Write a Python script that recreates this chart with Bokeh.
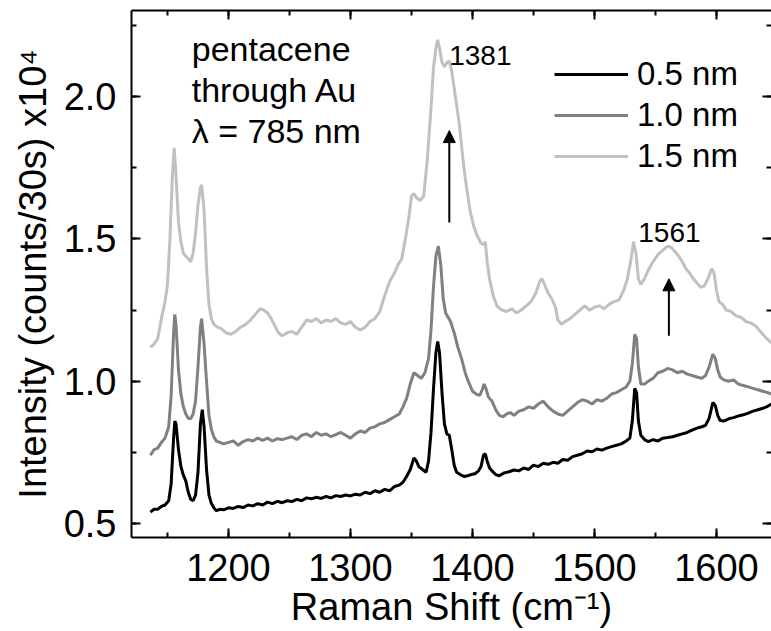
from bokeh.plotting import figure
from bokeh.models import (LinearAxis, SingleIntervalTicker, Label, Arrow, NormalHead,
                          Legend, LegendItem, ColumnDataSource, PrintfTickFormatter,
                          CustomJSTickFormatter)
from bokeh.embed import file_html
from bokeh.resources import INLINE

FONT = "Liberation Sans"

# ---------------- data ----------------
wn_05 = [1136, 1139, 1142, 1145, 1148, 1151, 1153, 1155, 1156, 1157, 1159, 1161, 1163, 1165, 1167, 1169,
         1171, 1173, 1175, 1177, 1178.5, 1180, 1182, 1184, 1186, 1188, 1190, 1193, 1196, 1200, 1204, 1208,
         1212, 1216, 1220, 1224, 1228, 1232, 1236, 1240, 1244, 1248, 1252, 1256, 1260, 1264, 1268, 1272,
         1276, 1280, 1284, 1288, 1292, 1296, 1300, 1304, 1308, 1312, 1316, 1320, 1324, 1328, 1332, 1336,
         1340, 1343, 1346, 1349, 1352, 1354, 1356, 1359, 1362, 1364, 1366, 1368, 1370, 1371.5, 1373, 1375,
         1377, 1379, 1381, 1383, 1385, 1387, 1390, 1393, 1396, 1399, 1402, 1405, 1407, 1409, 1410.5, 1412,
         1414, 1416, 1419, 1422, 1426, 1430, 1434, 1438, 1442, 1446, 1450, 1454, 1458, 1462, 1466, 1470,
         1474, 1478, 1482, 1486, 1490, 1494, 1498, 1502, 1506, 1510, 1514, 1518, 1522, 1526, 1529, 1531,
         1533, 1534.5, 1536, 1538, 1541, 1544, 1548, 1552, 1556, 1560, 1564, 1568, 1572, 1576, 1580, 1584,
         1588, 1591, 1594, 1597, 1599, 1601, 1603, 1606, 1610, 1614, 1618, 1622, 1626, 1630, 1634, 1638,
         1642, 1645]
int_05 = [0.54, 0.55, 0.55, 0.56, 0.565, 0.58, 0.64, 0.80, 0.86, 0.85, 0.76, 0.70, 0.67, 0.65, 0.61, 0.585,
          0.58, 0.60, 0.68, 0.85, 0.90, 0.84, 0.69, 0.60, 0.57, 0.555, 0.545, 0.55, 0.548, 0.555, 0.553, 0.56,
          0.556, 0.565, 0.562, 0.57, 0.565, 0.575, 0.57, 0.578, 0.573, 0.58, 0.577, 0.585, 0.58, 0.59, 0.587, 0.592,
          0.588, 0.595, 0.59, 0.598, 0.595, 0.60, 0.597, 0.603, 0.60, 0.61, 0.605, 0.615, 0.61, 0.62, 0.615, 0.63,
          0.635, 0.645, 0.665, 0.69, 0.73, 0.72, 0.70, 0.69, 0.68, 0.72, 0.82, 0.97, 1.10, 1.14, 1.10, 0.96,
          0.85, 0.815, 0.81, 0.76, 0.705, 0.68, 0.672, 0.665, 0.668, 0.672, 0.675, 0.685, 0.70, 0.74, 0.745, 0.72,
          0.695, 0.685, 0.672, 0.668, 0.678, 0.682, 0.688, 0.685, 0.695, 0.69, 0.705, 0.70, 0.712, 0.708, 0.715, 0.712,
          0.725, 0.722, 0.735, 0.74, 0.745, 0.755, 0.752, 0.762, 0.758, 0.765, 0.77, 0.775, 0.78, 0.79, 0.80, 0.86,
          0.975, 0.96, 0.86, 0.81, 0.795, 0.788, 0.795, 0.79, 0.80, 0.802, 0.805, 0.81, 0.815, 0.82, 0.828, 0.835,
          0.84, 0.845, 0.87, 0.925, 0.915, 0.88, 0.862, 0.86, 0.868, 0.872, 0.878, 0.882, 0.888, 0.895, 0.90, 0.905,
          0.912, 0.92]

wn_10 = [1136, 1139, 1142, 1145, 1148, 1151, 1153, 1155, 1156, 1157, 1159, 1161, 1163, 1165, 1167, 1169,
         1171, 1173, 1175, 1177, 1178, 1180, 1182, 1184, 1186, 1188, 1190, 1193, 1196, 1200, 1204, 1208,
         1212, 1216, 1220, 1224, 1228, 1232, 1236, 1240, 1244, 1248, 1252, 1256, 1260, 1264, 1268, 1272,
         1276, 1280, 1284, 1288, 1292, 1296, 1300, 1304, 1308, 1312, 1316, 1320, 1324, 1328, 1332, 1336,
         1340, 1343, 1346, 1349, 1352, 1355, 1358, 1361, 1364, 1366, 1368, 1370, 1372, 1374, 1376, 1378,
         1380, 1382, 1385, 1388, 1391, 1394, 1397, 1400, 1403, 1406, 1408, 1409.5, 1411, 1413, 1416, 1419,
         1422, 1425, 1428, 1431, 1434, 1438, 1442, 1446, 1450, 1454, 1458, 1462, 1466, 1470, 1474, 1478,
         1482, 1486, 1490, 1494, 1498, 1502, 1506, 1510, 1514, 1518, 1522, 1526, 1529, 1531, 1533, 1534.5,
         1536, 1538, 1541, 1544, 1548, 1552, 1556, 1560, 1564, 1568, 1572, 1576, 1580, 1584, 1588, 1591,
         1594, 1597, 1599, 1601, 1603, 1606, 1610, 1614, 1618, 1622, 1626, 1630, 1634, 1638, 1642, 1645]
int_10 = [0.74, 0.76, 0.765, 0.785, 0.80, 0.84, 0.95, 1.17, 1.235, 1.20, 1.04, 0.955, 0.91, 0.885, 0.87, 0.868,
          0.885, 0.93, 1.05, 1.19, 1.22, 1.13, 1.00, 0.88, 0.83, 0.805, 0.79, 0.785, 0.78, 0.785, 0.79, 0.775,
          0.788, 0.795, 0.79, 0.80, 0.792, 0.80, 0.79, 0.798, 0.795, 0.80, 0.805, 0.795, 0.81, 0.815, 0.805, 0.82,
          0.81, 0.815, 0.805, 0.812, 0.82, 0.81, 0.80, 0.815, 0.825, 0.82, 0.835, 0.84, 0.85, 0.855, 0.865, 0.875,
          0.885, 0.91, 0.94, 0.99, 1.03, 1.02, 1.01, 1.03, 1.08, 1.18, 1.33, 1.44, 1.475, 1.41, 1.29, 1.24,
          1.225, 1.21, 1.17, 1.12, 1.08, 1.03, 0.995, 0.965, 0.955, 0.95, 0.97, 0.99, 0.975, 0.945, 0.93, 0.90,
          0.88, 0.875, 0.885, 0.89, 0.88, 0.895, 0.90, 0.91, 0.905, 0.92, 0.93, 0.91, 0.895, 0.885, 0.88, 0.895,
          0.91, 0.925, 0.935, 0.93, 0.92, 0.935, 0.93, 0.94, 0.955, 0.96, 0.97, 0.98, 1.00, 1.06, 1.165, 1.15,
          1.05, 0.99, 0.99, 1.00, 1.01, 1.03, 1.035, 1.045, 1.04, 1.03, 1.035, 1.025, 1.02, 1.015, 1.01, 1.02,
          1.05, 1.095, 1.08, 1.04, 1.015, 1.005, 1.00, 1.005, 0.99, 0.985, 0.98, 0.975, 0.97, 0.965, 0.96, 0.955]

wn_15 = [1136, 1139, 1142, 1145, 1148, 1150, 1152, 1154, 1155.5, 1157, 1159, 1161, 1163, 1165, 1167, 1169,
         1171, 1173, 1175, 1177, 1178, 1180, 1182, 1184, 1186, 1188, 1191, 1194, 1198, 1202, 1206, 1210,
         1214, 1218, 1222, 1226, 1229, 1232, 1235, 1238, 1241, 1244, 1248, 1252, 1256, 1260, 1264, 1268,
         1272, 1276, 1280, 1284, 1288, 1292, 1296, 1300, 1304, 1308, 1312, 1316, 1320, 1324, 1328, 1332,
         1336, 1339, 1342, 1345, 1348, 1350, 1352, 1354, 1357, 1360, 1363, 1366, 1368, 1370, 1371.5, 1373,
         1375, 1377, 1379, 1381, 1383, 1385, 1387, 1389, 1391, 1393, 1395.5, 1398, 1401, 1404, 1407, 1409,
         1410.5, 1412, 1414, 1417, 1420, 1424, 1428, 1432, 1436, 1440, 1444, 1448, 1452, 1455, 1457, 1459,
         1462, 1465, 1468, 1470, 1473, 1476, 1480, 1484, 1488, 1492, 1496, 1500, 1504, 1508, 1512, 1516,
         1520, 1524, 1527, 1530, 1532, 1534, 1536, 1538, 1541, 1544, 1548, 1552, 1556, 1560, 1563, 1566,
         1569, 1572, 1575, 1578, 1581, 1584, 1587, 1590, 1593, 1596, 1598, 1600, 1602, 1605, 1608, 1612,
         1616, 1620, 1624, 1628, 1632, 1636, 1640, 1645]
int_15 = [1.12, 1.13, 1.15, 1.22, 1.28, 1.34, 1.50, 1.72, 1.82, 1.72, 1.56, 1.49, 1.45, 1.44, 1.43, 1.42,
          1.45, 1.52, 1.62, 1.68, 1.69, 1.60, 1.40, 1.27, 1.22, 1.20, 1.19, 1.185, 1.17, 1.165, 1.175, 1.19,
          1.20, 1.215, 1.235, 1.255, 1.25, 1.24, 1.22, 1.195, 1.17, 1.16, 1.17, 1.175, 1.165, 1.19, 1.215, 1.21,
          1.22, 1.205, 1.215, 1.21, 1.22, 1.205, 1.20, 1.21, 1.19, 1.18, 1.19, 1.21, 1.22, 1.245, 1.30, 1.35,
          1.38, 1.41, 1.43, 1.50, 1.58, 1.65, 1.66, 1.645, 1.635, 1.65, 1.78, 1.96, 2.10, 2.17, 2.20, 2.17,
          2.12, 2.105, 2.12, 2.125, 2.09, 2.03, 1.97, 1.91, 1.83, 1.75, 1.67, 1.60, 1.545, 1.51, 1.485, 1.48,
          1.49, 1.42, 1.36, 1.30, 1.265, 1.25, 1.245, 1.255, 1.24, 1.25, 1.265, 1.28, 1.31, 1.35, 1.36, 1.34,
          1.31, 1.29, 1.26, 1.215, 1.20, 1.21, 1.22, 1.235, 1.25, 1.265, 1.25, 1.26, 1.265, 1.255, 1.27, 1.28,
          1.285, 1.32, 1.36, 1.43, 1.49, 1.45, 1.36, 1.34, 1.36, 1.39, 1.42, 1.445, 1.46, 1.475, 1.47, 1.455,
          1.44, 1.42, 1.395, 1.38, 1.36, 1.345, 1.33, 1.335, 1.36, 1.395, 1.38, 1.32, 1.28, 1.27, 1.25, 1.245,
          1.23, 1.225, 1.21, 1.205, 1.195, 1.175, 1.155, 1.135]

series_labels = ["0.5 nm", "1.0 nm", "1.5 nm"]
series_colors = ["#000000", "#808080", "#c0c0c0"]

info_lines = ["pentacene", "through Au", "\u03bb = 785 nm"]
info_y = [2.166, 2.024, 1.878]
info_x = 1169.9
peak_labels = ["1381", "1561"]
peak_pos = [1381, 1561]
peak_label_x = [1380.9, 1535.9]
peak_label_y = [2.146, 1.524]
arrow_base = [1.558, 1.160]
arrow_tip = [1.881, 1.360]

# ---------------- figure ----------------
p = figure(width=771, height=631, x_range=(1120.5, 1645.1), y_range=(0.4508, 2.303),
           output_backend="svg", toolbar_location=None,
           min_border_left=131, min_border_right=0, min_border_top=10, min_border_bottom=94)
p.outline_line_color = None
p.xgrid.visible = False
p.ygrid.visible = False
p.background_fill_color = "white"
p.border_fill_color = "white"

xt = SingleIntervalTicker(interval=100, num_minor_ticks=2)
yt = SingleIntervalTicker(interval=0.5, num_minor_ticks=2)


def style_axis(ax, labels=True):
    ax.axis_line_width = 2
    ax.axis_line_color = "black"
    ax.major_tick_line_width = 2
    ax.minor_tick_line_width = 2
    ax.major_tick_line_color = "black"
    ax.minor_tick_line_color = "black"
    ax.major_tick_in = 9
    ax.major_tick_out = 0
    ax.minor_tick_in = 5
    ax.minor_tick_out = 0
    ax.major_label_text_font = FONT
    ax.major_label_text_color = "black"
    ax.axis_label_text_font = FONT
    ax.axis_label_text_color = "black"
    ax.axis_label_text_font_style = "normal"
    if not labels:
        ax.formatter = CustomJSTickFormatter(code="return ''")
        ax.major_label_text_font_size = "1px"
        ax.major_label_standoff = 0
        ax.axis_label = None


xa = p.xaxis[0]
xa.ticker = xt
style_axis(xa)
xa.major_label_text_font_size = "38px"
xa.major_label_standoff = 16
xa.axis_label = "Raman Shift (cm\u207b\u00b9)"
xa.axis_label_text_font_size = "38px"
xa.axis_label_standoff = 2

ya = p.yaxis[0]
ya.ticker = yt
ya.formatter = PrintfTickFormatter(format="%.1f")
style_axis(ya)
ya.major_label_text_font_size = "38px"
ya.major_label_standoff = 15
ya.axis_label = "Intensity (counts/30s) x10\u2074"
ya.axis_label_text_font_size = "38px"
ya.axis_label_standoff = 7

top = LinearAxis(ticker=xt)
style_axis(top, labels=False)
p.add_layout(top, "above")
right = LinearAxis(ticker=yt)
style_axis(right, labels=False)
right.axis_line_color = None
p.add_layout(right, "right")

renderers = []
for wn, inten, col in [(wn_05, int_05, series_colors[0]),
                       (wn_10, int_10, series_colors[1]),
                       (wn_15, int_15, series_colors[2])]:
    src = ColumnDataSource(dict(x=wn, y=inten))
    renderers.append(p.line("x", "y", source=src, line_color=col, line_width=3))

legend = Legend(items=[LegendItem(label=series_labels[i], renderers=[renderers[i]]) for i in range(3)],
                location=(423, 362), orientation="vertical")
legend.label_text_font = FONT
legend.label_text_font_size = "33px"
legend.label_text_color = "black"
legend.glyph_width = 74
legend.glyph_height = 20
legend.label_standoff = 9
legend.spacing = 3
legend.padding = 0
legend.margin = 0
legend.border_line_color = None
legend.background_fill_alpha = 0
p.add_layout(legend, "center")

for t, yv in zip(info_lines, info_y):
    p.add_layout(Label(x=info_x, y=yv, text=t, text_font=FONT, text_font_size="34px",
                       text_baseline="middle", text_align="left", text_color="black"))

for i in range(2):
    p.add_layout(Arrow(x_start=peak_pos[i], y_start=arrow_base[i], x_end=peak_pos[i], y_end=arrow_tip[i],
                       line_width=2, line_color="black",
                       end=NormalHead(size=12, fill_color="black", line_color="black", line_width=1)))
    p.add_layout(Label(x=peak_label_x[i], y=peak_label_y[i], text=peak_labels[i],
                       text_font=FONT, text_font_size="28px", text_baseline="middle",
                       text_align="left", text_color="black"))

open("out.html", "w").write(file_html(p, INLINE))
